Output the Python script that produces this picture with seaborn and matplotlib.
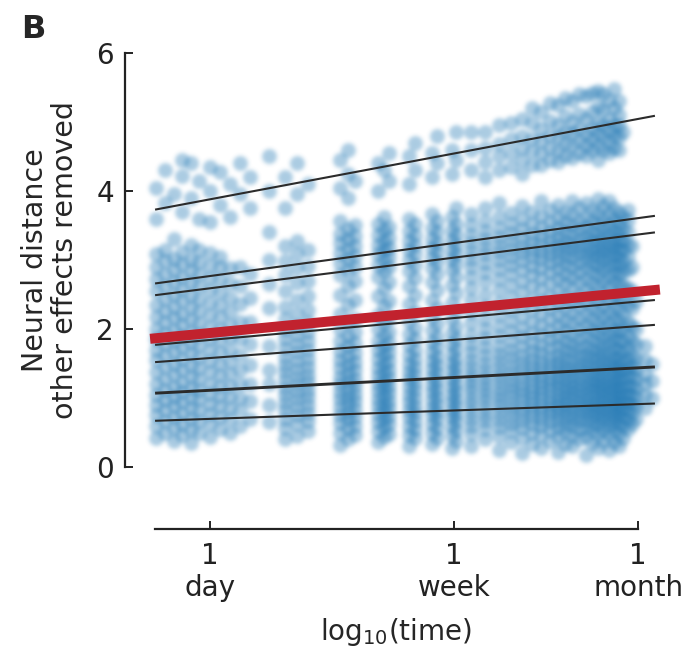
import numpy as np
import pandas as pd
import matplotlib
matplotlib.use("Agg")
import matplotlib.pyplot as plt
import seaborn as sns

# Neural distance (other effects removed) observed at each elapsed time.
# Each list holds the observations recorded at one time point (in days).
t0_65 = [0.42, 0.6, 0.75, 0.9, 1.05, 1.2, 1.38, 1.55, 1.7, 1.85, 2.0, 2.18, 2.35,
         2.55, 2.72, 2.9, 3.08, 3.6, 4.05]
t0_70 = [0.5, 0.66, 0.82, 0.97, 1.12, 1.28, 1.45, 1.62, 1.78, 1.94, 2.1, 2.26, 2.44,
         2.62, 2.8, 2.98, 3.15, 3.82, 4.3]
t0_75 = [0.38, 0.56, 0.72, 0.88, 1.02, 1.16, 1.33, 1.5, 1.66, 1.82, 1.99, 2.16, 2.32,
         2.5, 2.68, 2.86, 3.02, 3.3, 3.95]
t0_80 = [0.46, 0.63, 0.79, 0.94, 1.08, 1.23, 1.4, 1.57, 1.74, 1.9, 2.06, 2.22, 2.4,
         2.58, 2.76, 2.94, 3.12, 3.7, 4.22, 4.45]
t0_86 = [0.35, 0.54, 0.7, 0.86, 1.0, 1.15, 1.3, 1.47, 1.64, 1.8, 1.96, 2.13, 2.3, 2.48,
         2.66, 2.84, 3.0, 3.22, 3.9, 4.4]
t0_92 = [0.5, 0.67, 0.83, 0.98, 1.12, 1.27, 1.43, 1.6, 1.77, 1.93, 2.09, 2.26, 2.44,
         2.62, 2.8, 2.97, 3.15, 3.6, 4.15]
t1_00 = [0.44, 0.62, 0.77, 0.92, 1.06, 1.21, 1.37, 1.54, 1.7, 1.86, 2.03, 2.2, 2.38,
         2.56, 2.74, 2.92, 3.1, 3.55, 4.0, 4.35]
t1_08 = [0.55, 0.72, 0.88, 1.03, 1.18, 1.34, 1.5, 1.67, 1.84, 2.0, 2.17, 2.35, 2.53,
         2.72, 2.9, 3.05, 3.8, 4.28]
t1_17 = [0.5, 0.7, 0.86, 1.02, 1.18, 1.35, 1.52, 1.7, 1.88, 2.06, 2.25, 2.45, 2.66,
         2.88, 3.62, 4.1]
t1_27 = [0.6, 0.82, 1.0, 1.2, 1.4, 1.62, 1.85, 2.1, 2.36, 2.62, 2.9, 3.95, 4.4]
t1_38 = [0.7, 0.95, 1.2, 1.48, 1.78, 2.1, 2.45, 2.8, 3.75, 4.2]
t1_60 = [0.65, 0.9, 1.2, 1.4, 1.75, 2.3, 2.65, 3.0, 3.4, 4.0, 4.5]
t1_82 = [0.4, 0.56, 0.7, 0.82, 0.93, 1.04, 1.15, 1.26, 1.37, 1.48, 1.6, 1.72, 1.85,
         1.98, 2.14, 2.32, 2.55, 2.78, 2.98, 3.2, 3.75, 4.2]
t2_00 = [0.45, 0.62, 0.75, 0.87, 0.98, 1.09, 1.2, 1.31, 1.42, 1.54, 1.66, 1.78, 1.91,
         2.05, 2.22, 2.42, 2.66, 2.88, 3.08, 3.28, 3.95, 4.4]
t2_18 = [0.52, 0.66, 0.79, 0.9, 1.01, 1.12, 1.23, 1.34, 1.45, 1.57, 1.69, 1.82, 1.95,
         2.1, 2.28, 2.48, 2.7, 2.92, 3.14, 4.1]
t2_82 = [0.32, 0.5, 0.64, 0.76, 0.87, 0.98, 1.09, 1.2, 1.31, 1.43, 1.55, 1.68, 1.82,
         2.0, 2.22, 2.5, 2.78, 2.95, 3.1, 3.24, 3.38, 3.56, 4.05, 4.45]
t3_00 = [0.4, 0.56, 0.69, 0.8, 0.91, 1.02, 1.13, 1.24, 1.36, 1.48, 1.61, 1.75, 1.9,
         2.1, 2.35, 2.62, 2.86, 3.02, 3.16, 3.3, 3.45, 3.9, 4.25, 4.6]
t3_18 = [0.46, 0.6, 0.72, 0.84, 0.95, 1.06, 1.17, 1.28, 1.4, 1.52, 1.65, 1.79, 1.95,
         2.15, 2.42, 2.7, 2.9, 3.06, 3.2, 3.35, 3.5, 4.15]
t3_82 = [0.36, 0.52, 0.65, 0.77, 0.88, 0.99, 1.1, 1.21, 1.32, 1.44, 1.56, 1.69, 1.83,
         2.0, 2.2, 2.48, 2.75, 2.93, 3.08, 3.22, 3.36, 3.52, 4.0, 4.4]
t4_00 = [0.44, 0.58, 0.7, 0.81, 0.92, 1.03, 1.14, 1.25, 1.37, 1.49, 1.62, 1.76, 1.92,
         2.1, 2.34, 2.6, 2.84, 3.0, 3.14, 3.28, 3.43, 3.62, 4.3]
t4_18 = [0.48, 0.62, 0.74, 0.85, 0.96, 1.07, 1.18, 1.29, 1.41, 1.53, 1.66, 1.8, 1.96,
         2.16, 2.4, 2.68, 2.9, 3.04, 3.18, 3.32, 3.48, 4.15, 4.55]
t4_88 = [0.3, 0.46, 0.6, 0.72, 0.83, 0.94, 1.05, 1.16, 1.27, 1.38, 1.5, 1.63, 1.77,
         1.93, 2.12, 2.36, 2.62, 2.84, 3.0, 3.14, 3.28, 3.42, 3.6, 4.1, 4.5]
t5_12 = [0.42, 0.55, 0.67, 0.78, 0.89, 1.0, 1.11, 1.22, 1.33, 1.45, 1.57, 1.7, 1.85,
         2.02, 2.24, 2.5, 2.74, 2.93, 3.08, 3.22, 3.36, 3.52, 4.3, 4.7]
t5_88 = [0.34, 0.5, 0.63, 0.75, 0.86, 0.97, 1.08, 1.19, 1.3, 1.42, 1.54, 1.67, 1.81,
         1.98, 2.18, 2.42, 2.68, 2.88, 3.03, 3.17, 3.31, 3.46, 3.66, 4.2, 4.55]
t6_12 = [0.42, 0.57, 0.69, 0.8, 0.91, 1.02, 1.13, 1.24, 1.36, 1.48, 1.6, 1.74, 1.89,
         2.07, 2.3, 2.56, 2.8, 2.97, 3.11, 3.25, 3.4, 3.56, 4.4, 4.8]
t6_90 = [0.28, 0.46, 0.6, 0.72, 0.83, 0.94, 1.05, 1.16, 1.27, 1.39, 1.51, 1.64, 1.78,
         1.94, 2.14, 2.38, 2.64, 2.85, 3.01, 3.15, 3.29, 3.44, 3.62, 4.25, 4.6]
t7_10 = [0.38, 0.53, 0.66, 0.77, 0.88, 0.99, 1.1, 1.21, 1.33, 1.45, 1.57, 1.71, 1.86,
         2.03, 2.26, 2.52, 2.76, 2.94, 3.08, 3.22, 3.36, 3.52, 3.75, 4.45, 4.85]
t8 = [0.3, 0.48, 0.6, 0.7, 0.8, 0.9, 0.99, 1.08, 1.17, 1.26, 1.35, 1.45, 1.55, 1.66,
      1.78, 1.92, 2.08, 2.25, 2.42, 2.6, 2.76, 2.9, 3.02, 3.13, 3.24, 3.36, 3.5, 3.66,
      4.3, 4.6, 4.85]
t9 = [0.4, 0.55, 0.66, 0.76, 0.86, 0.95, 1.04, 1.13, 1.22, 1.31, 1.41, 1.51, 1.62, 1.74,
      1.87, 2.0, 2.15, 2.32, 2.5, 2.68, 2.83, 2.96, 3.08, 3.19, 3.3, 3.42, 3.56, 3.75,
      4.2, 4.42, 4.62, 4.85]
t10 = [0.25, 0.45, 0.58, 0.68, 0.78, 0.88, 0.97, 1.06, 1.15, 1.24, 1.33, 1.43, 1.53,
       1.64, 1.76, 1.9, 2.05, 2.2, 2.38, 2.56, 2.72, 2.87, 3.0, 3.11, 3.22, 3.34, 3.47,
       3.62, 3.82, 4.3, 4.5, 4.68, 4.95]
t11 = [0.36, 0.52, 0.63, 0.73, 0.83, 0.92, 1.01, 1.1, 1.19, 1.28, 1.38, 1.48, 1.59, 1.7,
       1.83, 1.97, 2.12, 2.28, 2.46, 2.64, 2.8, 2.93, 3.05, 3.16, 3.27, 3.39, 3.52, 3.68,
       4.35, 4.55, 4.75, 4.98]
t12 = [0.2, 0.42, 0.56, 0.67, 0.77, 0.86, 0.95, 1.04, 1.13, 1.22, 1.32, 1.42, 1.52,
       1.63, 1.75, 1.88, 2.02, 2.18, 2.35, 2.53, 2.7, 2.85, 2.98, 3.1, 3.21, 3.32, 3.45,
       3.6, 3.78, 4.25, 4.45, 4.62, 4.8, 5.05]
t13 = [0.33, 0.5, 0.62, 0.72, 0.82, 0.91, 1.0, 1.09, 1.18, 1.27, 1.36, 1.46, 1.57, 1.68,
       1.8, 1.94, 2.1, 2.27, 2.44, 2.62, 2.78, 2.92, 3.04, 3.15, 3.26, 3.38, 3.52, 3.7,
       4.38, 4.58, 4.76, 4.98, 5.2]
t14 = [0.27, 0.46, 0.59, 0.7, 0.8, 0.89, 0.98, 1.07, 1.16, 1.25, 1.34, 1.44, 1.54,
       1.65, 1.77, 1.91, 2.06, 2.22, 2.4, 2.58, 2.74, 2.89, 3.01, 3.12, 3.23, 3.35, 3.48,
       3.64, 3.85, 4.38, 4.55, 4.72, 4.9, 5.15]
t15 = [0.38, 0.54, 0.65, 0.75, 0.84, 0.93, 1.02, 1.11, 1.2, 1.29, 1.39, 1.49, 1.6, 1.72,
       1.85, 1.99, 2.14, 2.3, 2.48, 2.66, 2.82, 2.95, 3.07, 3.18, 3.29, 3.41, 3.55, 3.72,
       4.45, 4.62, 4.8, 5.02, 5.28]
t16 = [0.22, 0.44, 0.57, 0.68, 0.78, 0.87, 0.96, 1.05, 1.14, 1.23, 1.32, 1.42, 1.52,
       1.63, 1.75, 1.89, 2.04, 2.2, 2.37, 2.55, 2.72, 2.87, 3.0, 3.11, 3.22, 3.33, 3.46,
       3.61, 3.8, 4.42, 4.6, 4.78, 4.95, 5.25]
t17 = [0.34, 0.51, 0.63, 0.73, 0.82, 0.91, 1.0, 1.09, 1.18, 1.27, 1.37, 1.47, 1.58, 1.7,
       1.83, 1.97, 2.12, 2.29, 2.47, 2.65, 2.8, 2.94, 3.06, 3.17, 3.28, 3.4, 3.54, 3.7,
       4.5, 4.68, 4.86, 5.08, 5.35]
t18 = [0.3, 0.47, 0.6, 0.7, 0.8, 0.89, 0.98, 1.07, 1.16, 1.25, 1.34, 1.44, 1.55, 1.66,
       1.78, 1.92, 2.08, 2.24, 2.42, 2.6, 2.76, 2.9, 3.03, 3.14, 3.25, 3.37, 3.5, 3.66,
       3.86, 4.48, 4.66, 4.84, 5.0, 5.3]
t19 = [0.4, 0.55, 0.66, 0.76, 0.85, 0.94, 1.03, 1.12, 1.21, 1.3, 1.4, 1.5, 1.61, 1.73,
       1.86, 2.0, 2.16, 2.33, 2.5, 2.68, 2.83, 2.96, 3.08, 3.19, 3.3, 3.43, 3.57, 3.75,
       4.55, 4.72, 4.9, 5.12, 5.4]
t20 = [0.18, 0.43, 0.57, 0.68, 0.78, 0.87, 0.96, 1.05, 1.14, 1.23, 1.33, 1.43, 1.53,
       1.64, 1.76, 1.9, 2.05, 2.21, 2.38, 2.56, 2.73, 2.88, 3.01, 3.12, 3.23, 3.35, 3.48,
       3.63, 3.82, 4.5, 4.66, 4.82, 5.05, 5.38]
t21 = [0.35, 0.52, 0.64, 0.74, 0.83, 0.92, 1.01, 1.1, 1.19, 1.28, 1.38, 1.48, 1.59,
       1.71, 1.84, 1.98, 2.14, 2.31, 2.49, 2.67, 2.82, 2.95, 3.07, 3.18, 3.29, 3.41, 3.55,
       3.72, 4.6, 4.76, 4.92, 5.15, 5.42]
t22 = [0.28, 0.48, 0.61, 0.71, 0.81, 0.9, 0.99, 1.08, 1.17, 1.26, 1.35, 1.45, 1.56,
       1.67, 1.8, 1.94, 2.09, 2.26, 2.44, 2.62, 2.78, 2.92, 3.04, 3.15, 3.26, 3.38, 3.52,
       3.68, 3.88, 4.45, 4.65, 4.82, 4.98, 5.22, 5.45]
t23 = [0.38, 0.54, 0.66, 0.76, 0.85, 0.94, 1.03, 1.12, 1.21, 1.31, 1.41, 1.51, 1.62,
       1.74, 1.87, 2.01, 2.17, 2.34, 2.52, 2.7, 2.85, 2.98, 3.1, 3.21, 3.32, 3.45, 3.6,
       3.78, 4.6, 4.78, 4.95, 5.18, 5.4]
t24 = [0.24, 0.46, 0.59, 0.7, 0.8, 0.89, 0.98, 1.07, 1.16, 1.25, 1.35, 1.45, 1.55,
       1.66, 1.79, 1.93, 2.08, 2.25, 2.43, 2.61, 2.77, 2.91, 3.03, 3.14, 3.25, 3.37, 3.5,
       3.66, 3.85, 4.55, 4.72, 4.88, 5.05, 5.32]
t25 = [0.36, 0.53, 0.65, 0.75, 0.84, 0.93, 1.02, 1.11, 1.2, 1.29, 1.39, 1.49, 1.6, 1.72,
       1.85, 1.99, 2.15, 2.32, 2.5, 2.68, 2.83, 2.96, 3.08, 3.19, 3.3, 3.43, 3.58, 3.76,
       4.62, 4.8, 4.95, 5.2, 5.48]
t26 = [0.3, 0.5, 0.62, 0.72, 0.82, 0.91, 1.0, 1.09, 1.18, 1.27, 1.37, 1.47, 1.58, 1.7,
       1.83, 1.97, 2.12, 2.29, 2.47, 2.65, 2.8, 2.93, 3.05, 3.16, 3.27, 3.39, 3.53, 3.7,
       4.6, 4.78, 4.95, 5.1, 5.3]
t27 = [0.42, 0.6, 0.72, 0.83, 0.94, 1.05, 1.16, 1.27, 1.39, 1.52, 1.66, 1.82, 2.0, 2.2,
       2.42, 2.64, 2.84, 3.0, 3.14, 3.28, 3.44, 3.62, 4.85]
t28 = [0.55, 0.7, 0.82, 0.94, 1.06, 1.18, 1.3, 1.43, 1.57, 1.72, 1.9, 2.1, 2.35, 2.6,
       2.85, 3.05, 3.22, 3.4, 3.58, 3.72]
t29 = [0.62, 0.78, 0.92, 1.05, 1.18, 1.32, 1.47, 1.63, 1.82, 2.05, 2.3, 2.55, 2.9, 3.2]
t30 = [0.7, 0.88, 1.02, 1.15, 1.28, 1.42, 1.58, 1.78, 2.0, 2.4]
t32 = [0.85, 1.05, 1.2, 1.35, 1.55, 1.75]
t34 = [1.0, 1.25, 1.5]

time_days = [0.65, 0.70, 0.75, 0.80, 0.86, 0.92, 1.00, 1.08, 1.17, 1.27, 1.38, 1.60,
             1.82, 2.00, 2.18, 2.82, 3.00, 3.18, 3.82, 4.00, 4.18, 4.88, 5.12, 5.88,
             6.12, 6.90, 7.10, 8, 9, 10, 11, 12, 13, 14, 15, 16, 17, 18, 19, 20, 21,
             22, 23, 24, 25, 26, 27, 28, 29, 30, 32, 34]
observations = [t0_65, t0_70, t0_75, t0_80, t0_86, t0_92, t1_00, t1_08, t1_17, t1_27,
                t1_38, t1_60, t1_82, t2_00, t2_18, t2_82, t3_00, t3_18, t3_82, t4_00,
                t4_18, t4_88, t5_12, t5_88, t6_12, t6_90, t7_10, t8, t9, t10, t11, t12,
                t13, t14, t15, t16, t17, t18, t19, t20, t21, t22, t23, t24, t25, t26,
                t27, t28, t29, t30, t32, t34]

# Per-subject linear fits (value at the start and end of the fitted span)
fit_span_days = [0.646, 34.75]
subject_fit_start = [3.73, 2.66, 2.49, 1.77, 1.52, 1.07, 0.67]
subject_fit_end = [5.09, 3.64, 3.40, 2.42, 2.06, 1.45, 0.92]
subject_line_width = [1.5, 1.5, 1.5, 1.5, 1.5, 2.1, 1.5]
# Population-level fit
overall_fit = [1.865, 2.565]

tick_days = [1, 7, 30.4]
tick_labels = ["1\nday", "1\nweek", "1\nmonth"]

df = pd.DataFrame(
    [(np.log10(d), v) for d, vals in zip(time_days, observations) for v in vals],
    columns=["log_time", "distance"],
)


def soften(image, dpi):
    """Gaussian blur for the marker layer (alpha-weighted so edges stay blue)."""
    pad = 8
    img = np.pad(image, ((pad, pad), (pad, pad), (0, 0)))
    sigma = 1.5 * dpi / 100.0
    r = int(np.ceil(3 * sigma))
    k = np.exp(-np.arange(-r, r + 1) ** 2 / (2 * sigma ** 2))
    k /= k.sum()

    def blur(a):
        for axis in (0, 1):
            out = np.zeros_like(a)
            for w, s in zip(k, range(-r, r + 1)):
                out += w * np.roll(a, s, axis=axis)
            a = out
        return a

    alpha = img[..., 3:4]
    rgb_p = blur(img[..., :3] * alpha)
    a_b = blur(alpha)
    rgb = np.where(a_b > 1e-6, rgb_p / np.maximum(a_b, 1e-6), 0)
    return np.concatenate([np.clip(rgb, 0, 1), np.clip(a_b, 0, 1)], axis=2), -pad, -pad


sns.set_style("ticks")
plt.rcParams["font.family"] = ["DejaVu Sans"]

fig = plt.figure(figsize=(6.97, 6.5), dpi=100)
ax = fig.add_axes([0.1793, 0.2709, 0.779, 0.6582])

sns.scatterplot(data=df, x="log_time", y="distance", ax=ax, s=115,
                color="#1f77b4", alpha=0.38, linewidth=0, legend=False)
for coll in ax.collections:
    coll.set_agg_filter(soften)

span = np.log10(fit_span_days)
for y0, y1, lw in zip(subject_fit_start, subject_fit_end, subject_line_width):
    ax.plot(span, [y0, y1], color="#2b2b2b", lw=lw, solid_capstyle="butt", zorder=3)
ax.plot(span, overall_fit, color="#c1222e", lw=7.2, solid_capstyle="projecting",
        zorder=4)

ax.set_xlim(-0.294, 1.586)
ax.set_ylim(-0.1, 6.1)

ax.set_xticks(np.log10(tick_days))
ax.set_xticklabels(tick_labels, linespacing=1.05)
ax.set_yticks([0, 2, 4, 6])
ax.set_yticklabels(["0", "2", "4", "6"])
ax.tick_params(direction="in", length=6, width=1.4, colors="#222222", labelsize=20)
ax.tick_params(axis="y", pad=8)
ax.tick_params(axis="x", pad=9)

for side in ["top", "right"]:
    ax.spines[side].set_visible(False)
ax.spines["left"].set_bounds(0, 6)
ax.spines["bottom"].set_bounds(np.log10(0.646), np.log10(tick_days[-1]))
ax.spines["bottom"].set_position(("outward", 40))
for side in ["left", "bottom"]:
    ax.spines[side].set_linewidth(1.6)
    ax.spines[side].set_color("#222222")

ax.set_xlabel(r"$\mathregular{log_{10}}$(time)", fontsize=20, labelpad=10)
ax.set_ylabel("Neural distance\nother effects removed", fontsize=20.5,
              labelpad=12, linespacing=1.1)

fig.text(0.03, 0.978, "B", fontsize=23, fontweight="bold", va="top", ha="left")

fig.savefig("out.png", dpi=100)
